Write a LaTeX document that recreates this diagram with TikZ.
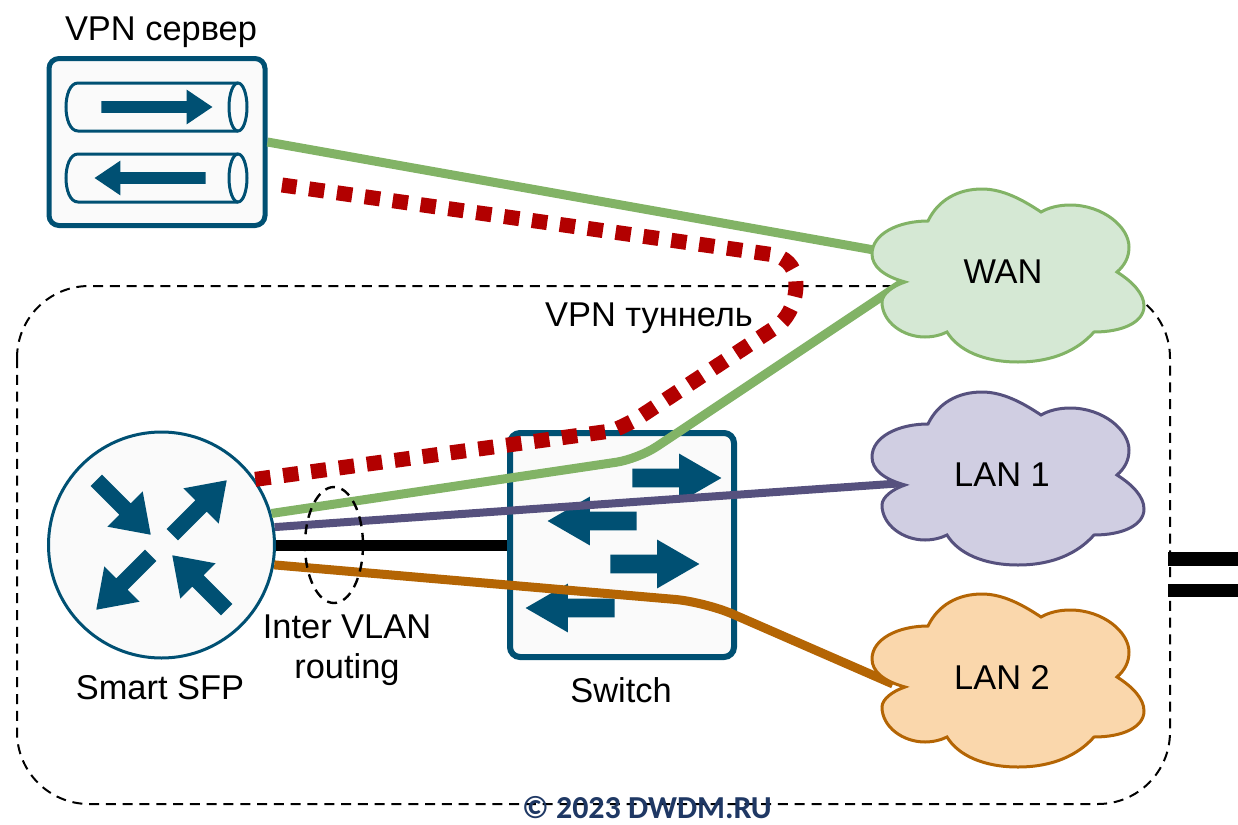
\documentclass[tikz,border=0pt]{standalone}
\usepackage{fontspec}
\setmainfont{Liberation Sans}
\newfontfamily\markfont{Carlito}
\usepackage{tikz}
\usetikzlibrary{shapes.arrows}
\definecolor{sfpblue}{HTML}{005073}
\definecolor{boxfill}{HTML}{FAFAFA}
\definecolor{wanline}{HTML}{82B366}
\definecolor{wanfill}{HTML}{D5E8D4}
\definecolor{lanaline}{HTML}{56517E}
\definecolor{lanafill}{HTML}{D0CEE2}
\definecolor{lanbline}{HTML}{B46504}
\definecolor{lanbfill}{HTML}{FAD7AC}
\definecolor{tunnelred}{HTML}{B20000}
\definecolor{markblue}{HTML}{1F3864}
\tikzset{
	label/.style={font=\fontsize{17.2}{20}\selectfont, inner sep=0pt, align=center},
	devbox/.style={draw=sfpblue, fill=boxfill, rectangle, rounded corners=5pt},
	flow/.style={single arrow, fill=sfpblue, inner xsep=0pt, anchor=tail, single arrow head indent=0pt},
	routerflow/.style={flow, inner ysep=3.85pt, minimum height=38.5pt, single arrow head extend=8.45pt, single arrow tip angle=69},
	switchflow/.style={flow, inner ysep=4.5pt, minimum height=44.5pt, single arrow head extend=7.5pt, single arrow tip angle=60},
	serverflow/.style={flow, inner ysep=2.75pt, minimum height=55.5pt, single arrow head extend=5.75pt, single arrow tip angle=68},
	tunnel/.style={tunnelred, line width=7.5pt, dash pattern=on 7.7pt off 6.37pt},
	wire/.style={line width=4.5pt, rounded corners=15pt},
	boundary/.style={black, line width=1pt, dash pattern=on 5pt off 3.4pt}
}
\newcommand{\cloudat}[2]{
	\draw [#2, line width=1.5pt, shift={(#1)}] (-98,10) .. controls (-120,4) and (-131,-6) .. (-131,-18)
		.. controls (-131,-38) and (-105,-51) .. (-75,-51)
		.. controls (-65,-72) and (-45,-83) .. (-21,-83)
		.. controls (0,-83) and (20,-72) .. (38,-60)
		.. controls (45,-64) and (55,-67) .. (67,-67)
		.. controls (100,-67) and (126,-45) .. (126,-25)
		.. controls (126,-15) and (122,-7) .. (114,0)
		.. controls (130,10) and (141,22) .. (141,34)
		.. controls (141,50) and (120,60) .. (91,60)
		.. controls (75,78) and (50,90) .. (15,90)
		.. controls (-20,90) and (-45,78) .. (-56,60)
		.. controls (-62,63) and (-70,65) .. (-78,65)
		.. controls (-100,65) and (-121,50) .. (-121,30)
		.. controls (-121,22) and (-110,14) .. cycle;
}
\begin{document}
\begin{tikzpicture}[x=0.5pt,y=-0.5pt]
		\useasboundingbox (0,0) rectangle (1238,825);

		\draw [boundary, rounded corners=36pt] (17,286) rectangle (1170,804);

		\node (server) at (157,142) [devbox, line width=2.5pt, minimum width=108pt, minimum height=83.5pt] {};
		\foreach \y in {83,154} {
			\draw [sfpblue, line width=1.5pt] (238,\y) -- (78,\y) .. controls (70,\y) and (66,\y+12) .. (66,\y+24) .. controls (66,\y+36) and (70,\y+48) .. (78,\y+48) -- (238,\y+48);
			\draw [sfpblue, line width=1.5pt] (238,\y+24) ellipse (9 and 24);
		}
		\node (serverout) at (101,107) [serverflow] {};
		\node (serverin) at (206,178) [serverflow, rotate=180] {};

		\node (switch) at (622,545) [devbox, line width=3pt, minimum width=112pt, minimum height=112pt] {};
		\node (switcha) at (632,478) [switchflow] {};
		\node (switchb) at (637,521) [switchflow, rotate=180] {};
		\node (switchc) at (610,564) [switchflow] {};
		\node (switchd) at (615,608) [switchflow, rotate=180] {};

		\node (router) at (161.5,545) [circle, draw=sfpblue, fill=boxfill, line width=1.5pt, minimum size=113pt] {};
		\node (routera) at (96,480) [routerflow, rotate=-45] {};
		\node (routerb) at (172,535) [routerflow, rotate=45] {};
		\node (routerc) at (151,555) [routerflow, rotate=-135] {};
		\node (routerd) at (227,610) [routerflow, rotate=135] {};

		\coordinate (wanleft) at (874,250);
		\coordinate (wannotch) at (905,281);
		\coordinate (lanatip) at (905,483);
		\coordinate (lanbtip) at (893,684);
		\coordinate (tunnelend) at (282,185);

		\draw [wire, wanline] (server.east) -- (wanleft);
		\draw [wire, wanline, rounded corners=11pt] (router.16) -- (638,459) -- (wannotch);
		\draw [wire, lanaline, line width=4pt] (router.9) -- (lanatip);
		\draw [black, line width=5.5pt] (router.east) -- (switch.west);
		\draw [wire, lanbline] (router.-10) -- (705,602) -- (lanbtip);
		\draw [tunnel] (router.35) -- (611,431) .. controls (620,428) and (625,425) .. (635,420) -- (779,325) .. controls (790,315) and (796,300) .. (796,285) .. controls (796,270) and (790,260) .. (775,255) -- (tunnelend);

		\draw [boundary, line width=1.2pt] (334,545) ellipse (29 and 58);

		\cloudat{1003,272}{draw=wanline, fill=wanfill}
		\cloudat{1003,475}{draw=lanaline, fill=lanafill}
		\cloudat{1003,677}{draw=lanbline, fill=lanbfill}

		\fill (1168,552) rectangle (1238,566);
		\fill (1168,584) rectangle (1238,597);

		\node (wan) at (1003,272) [label] {WAN};
		\node (lana) at (1002,475) [label] {LAN 1};
		\node (lanb) at (1002,677) [label] {LAN 2};
		\node (serverlabel) at (161,32) [label] {VPN сервер};
		\node (routerlabel) at (160,688) [label] {Smart SFP};
		\node (vlanlabel) at (347,650) [label] {Inter VLAN\\routing};
		\node (switchlabel) at (621,690) [label] {Switch};
		\node (tunnellabel) at (649,318) [label] {VPN туннель};
		\node (mark) at (647,818) [anchor=base, inner sep=0pt, text=markblue, font=\markfont\bfseries\fontsize{16}{18}\selectfont] {© 2023 DWDM.RU};
\end{tikzpicture}
\end{document}
